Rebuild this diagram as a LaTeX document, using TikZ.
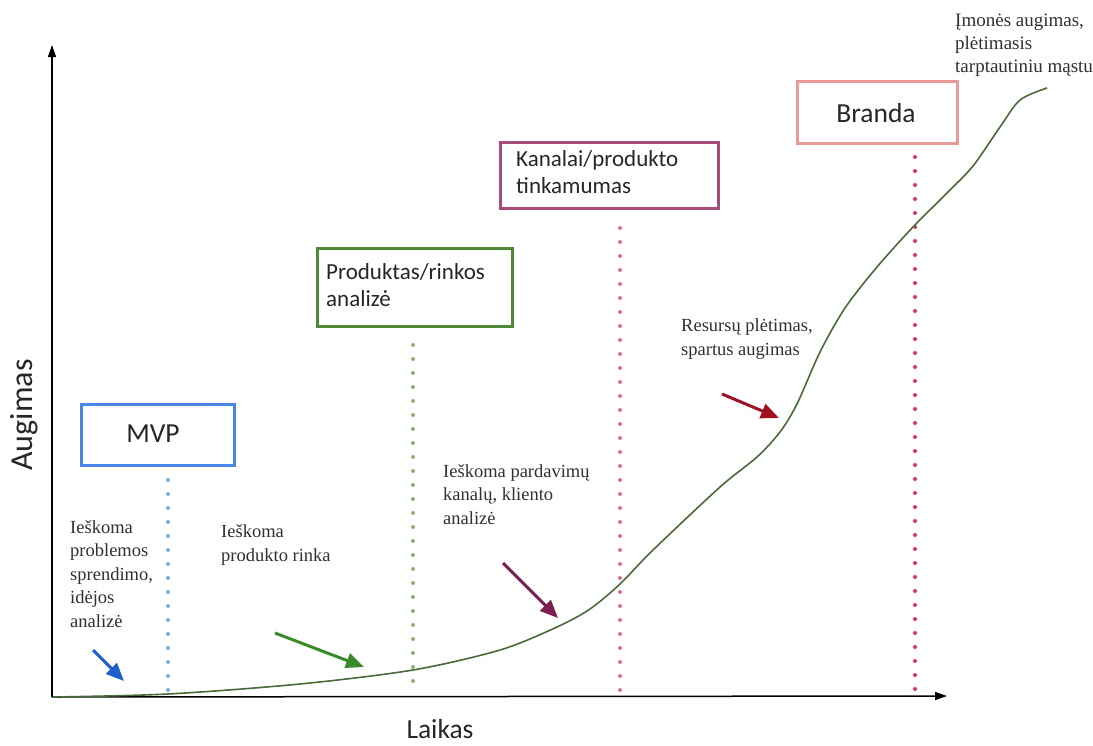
\documentclass[tikz,border=0pt]{standalone}
\usepackage{fontspec}
\setmainfont{Liberation Serif}
\newfontfamily\boxfont{Carlito}
\usetikzlibrary{arrows.meta}

\definecolor{mvpblue}{HTML}{4A86E8}
\definecolor{mktgreen}{HTML}{4E8A36}
\definecolor{chanplum}{HTML}{A64D79}
\definecolor{brandpink}{HTML}{EA9999}
\definecolor{dotblue}{HTML}{7AAEE0}
\definecolor{dotgreen}{HTML}{88B07A}
\definecolor{dotpink}{HTML}{DB7094}
\definecolor{dotred}{HTML}{DC3060}
\definecolor{curvegreen}{HTML}{4A6A3A}
\definecolor{arrblue}{HTML}{1F5FD0}
\definecolor{arrgreen}{HTML}{3A8A2A}
\definecolor{arrplum}{HTML}{7A1F50}
\definecolor{arrred}{HTML}{A01020}
\definecolor{txtgray}{HTML}{303030}

% multi-line nodes below are placed by the baseline of their last line
\tikzset{
  stagebox/.style={draw, line width=2.5pt, inner sep=0pt, anchor=north west},
  boxtext/.style={font=\boxfont\fontsize{23}{27}\selectfont, text=black!85,
    align=left, inner sep=0pt, anchor=base west},
  bigboxtext/.style={font=\boxfont\fontsize{27.5}{32}\selectfont, text=black!85,
    inner sep=0pt, anchor=base},
  note/.style={font=\fontsize{18.5}{23.5}\selectfont, text=txtgray,
    align=left, inner sep=0pt, anchor=base west},
  phase/.style={line width=4pt, line cap=round, dash pattern=on 0pt off 14pt},
  pointer/.style={line width=3pt, -{Triangle[length=18pt,width=15pt]}},
  axis/.style={line width=1.5pt, -{Triangle[length=12pt,width=8pt]}},
  axislabel/.style={font=\boxfont\fontsize{27.5}{32}\selectfont, text=black!85, inner sep=0pt}
}

\begin{document}
\begin{tikzpicture}[x=1pt, y=-1pt]
\useasboundingbox (0,0) rectangle (1093,745);

% axes
\coordinate (origin) at (52,697);
\coordinate (ytip) at (52,45);
\coordinate (xtip) at (947,696);
\draw[axis] (origin) -- (ytip);
\draw[axis] (origin) -- (xtip);
\node[axislabel, font=\boxfont\fontsize{32}{36}\selectfont, rotate=90] (ylab) at (24,415) {Augimas};
\node[axislabel, anchor=base] (xlab) at (440,738) {Laikas};

% phase boundaries
\coordinate (p1top) at (168,480); \coordinate (p1bot) at (168,695);
\coordinate (p2top) at (413,345); \coordinate (p2bot) at (413,695);
\coordinate (p3top) at (620,228); \coordinate (p3bot) at (620,695);
\coordinate (p4top) at (915,157); \coordinate (p4bot) at (915,695);
\draw[phase, dotblue] (p1top) -- (p1bot);
\draw[phase, dotgreen] (p2top) -- (p2bot);
\draw[phase, dotpink] (p3top) -- (p3bot);
\draw[phase, dotred] (p4top) -- (p4bot);

% stage boxes
\node[stagebox, draw=mvpblue, minimum width=153pt, minimum height=61pt] (mvp) at (80,403) {};
\node[bigboxtext] (mvptxt) at (153,442) {MVP};

\node[stagebox, draw=mktgreen, minimum width=195pt, minimum height=78pt] (market) at (316,247) {};
\node[boxtext] (markettxt) at (326,306) {Produktas/rinkos\\analizė};

\node[stagebox, draw=chanplum, minimum width=218pt, minimum height=66pt] (channel) at (499,141) {};
\node[boxtext] (channeltxt) at (516,193) {Kanalai/produkto\\tinkamumas};

\node[stagebox, draw=brandpink, minimum width=160pt, minimum height=62pt] (brand) at (796,80) {};
\node[bigboxtext] (brandtxt) at (876,122) {Branda};

% growth curve
\draw[curvegreen, line width=1.6pt] plot[smooth, tension=0.5] coordinates {
  (53,697) (168,694) (300,684) (413,670) (500,650) (557,627) (590,609)
  (620,584) (652,551) (720,487) (757,457) (780,432) (797,404)
  (820,352) (845,308) (877,267) (913,227) (947,193) (973,166) (1000,127)
  (1020,100) (1047,88)};

% notes
\node[note] (n1) at (70,627) {Ieškoma\\problemos\\sprendimo,\\idėjos\\analizė};
\node[note] (n2) at (221,561) {Ieškoma\\produkto rinka};
\node[note] (n3) at (443,524) {Ieškoma pardavimų\\kanalų, kliento\\analizė};
\node[note] (n4) at (681,355) {Resursų plėtimas,\\spartus augimas};
\node[note, font=\fontsize{19}{23}\selectfont] (n5) at (955,72) {Įmonės augimas,\\plėtimasis\\tarptautiniu mąstu};

% pointers
\coordinate (a1s) at (93,650);  \coordinate (a1e) at (124,681);
\coordinate (a2s) at (275,633); \coordinate (a2e) at (364,667);
\coordinate (a3s) at (503,563); \coordinate (a3e) at (558,618);
\coordinate (a4s) at (722,394); \coordinate (a4e) at (779,418);
\draw[pointer, arrblue] (a1s) -- (a1e);
\draw[pointer, arrgreen] (a2s) -- (a2e);
\draw[pointer, arrplum] (a3s) -- (a3e);
\draw[pointer, arrred] (a4s) -- (a4e);
\end{tikzpicture}
\end{document}
